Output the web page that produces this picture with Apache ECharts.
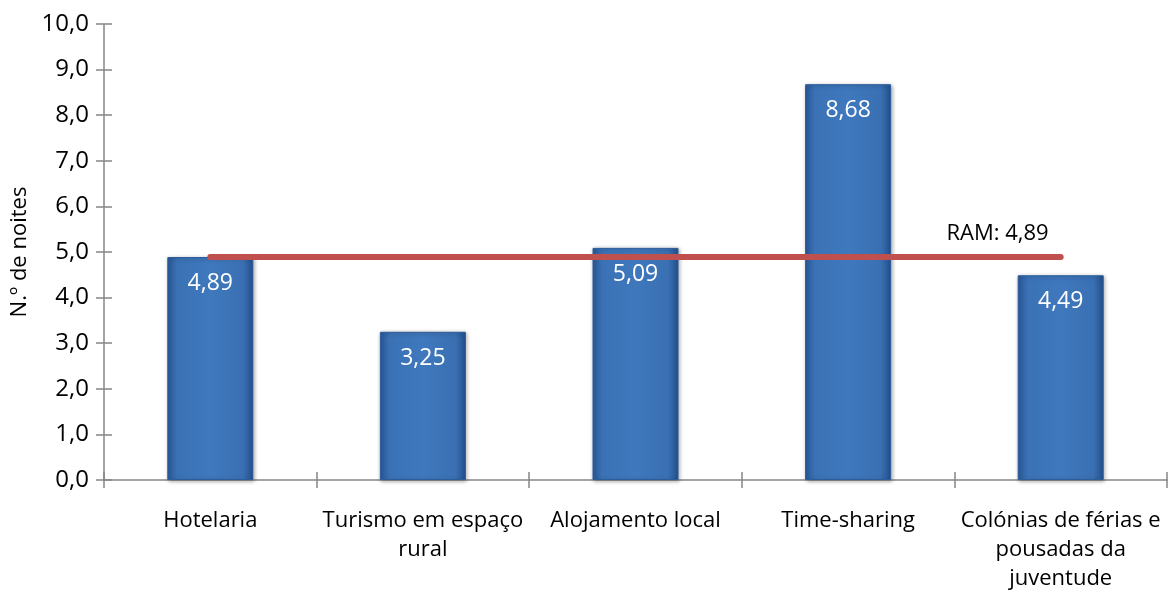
<!DOCTYPE html>
<html><head><meta charset="utf-8">
<script src="https://cdn.jsdelivr.net/npm/echarts@6/dist/echarts.min.js"></script>
<style>html,body{margin:0;padding:0;background:#fff}#c{width:1169px;height:593px}</style>
</head><body><div id="c"></div>
<script>
const categories = ["Hotelaria", "Turismo em espaço\nrural", "Alojamento local", "Time-sharing", "Colónias de férias e\npousadas da\njuventude"];
const values = [4.89, 3.25, 5.09, 8.68, 4.49];
const ramValue = 4.89;
const ramLabel = "RAM: 4,89";
const yAxisName = "N.º de noites";

const fmt = v => v.toFixed(1).replace('.', ',');
const fmt2 = v => v.toFixed(2).replace('.', ',');
const FONT = "'Open Sans', 'Noto Sans', sans-serif";
const axisColor = '#868686';

const chart = echarts.init(document.getElementById('c'));
chart.setOption({
  animation: false,
  grid: { left: 104, right: 2, top: 24, bottom: 109 },
  xAxis: [{
    type: 'category', data: categories,
    axisLine: { lineStyle: { color: axisColor, width: 1.5 } },
    axisTick: { show: true, length: 8, lineStyle: { color: axisColor, width: 1.5 } },
    axisLabel: { interval: 0, color: '#000', fontSize: 22, fontFamily: FONT, margin: 26, lineHeight: 29 }
  }, {
    type: 'category', data: categories, position: 'bottom',
    axisLine: { show: false },
    axisTick: { show: true, inside: true, length: 8, lineStyle: { color: axisColor, width: 1.5 } },
    axisLabel: { show: false }
  }],
  yAxis: [{
    type: 'value', min: 0, max: 10, interval: 1,
    name: yAxisName, nameLocation: 'middle', nameGap: 72,
    nameTextStyle: { color: '#000', fontSize: 22, fontFamily: FONT },
    axisLine: { show: true, lineStyle: { color: axisColor, width: 1.5 } },
    axisTick: { show: true, length: 8, lineStyle: { color: axisColor, width: 1.5 } },
    axisLabel: { color: '#000', fontSize: 24, fontFamily: FONT, margin: 15, formatter: fmt },
    splitLine: { show: false }
  }, {
    type: 'value', min: 0, max: 10, interval: 1, position: 'left',
    axisLine: { show: false },
    axisTick: { show: true, inside: true, length: 8, lineStyle: { color: axisColor, width: 1.5 } },
    axisLabel: { show: false }, splitLine: { show: false }
  }],
  series: [{
    type: 'bar', data: values, barWidth: 86,
    itemStyle: {
      color: new echarts.graphic.LinearGradient(0, 0, 1, 0, [
        { offset: 0, color: '#2a5a9a' },
        { offset: 0.12, color: '#3b72b6' },
        { offset: 0.5, color: '#3f78bd' },
        { offset: 0.88, color: '#3a70b3' },
        { offset: 1, color: '#23508c' }
      ]),
      borderColor: '#2b5c9c', borderWidth: 1,
      shadowColor: 'rgba(0,0,0,0.35)', shadowBlur: 4, shadowOffsetX: 1, shadowOffsetY: 1
    },
    label: { show: true, position: 'insideTop', distance: 15, color: '#fff', fontSize: 23, fontFamily: FONT, formatter: p => fmt2(p.value) },
    markLine: {
      symbol: ['none', 'none'], silent: true,
      lineStyle: { color: '#c0504d', width: 6, type: 'solid', cap: 'round' },
      label: { show: true, position: 'insideEndTop', formatter: ramLabel, color: '#000', fontSize: 22, fontFamily: FONT, distance: 12 },
      data: [[{ xAxis: 0, yAxis: ramValue }, { xAxis: 4, yAxis: ramValue }]]
    }
  }]
});
</script></body></html>
